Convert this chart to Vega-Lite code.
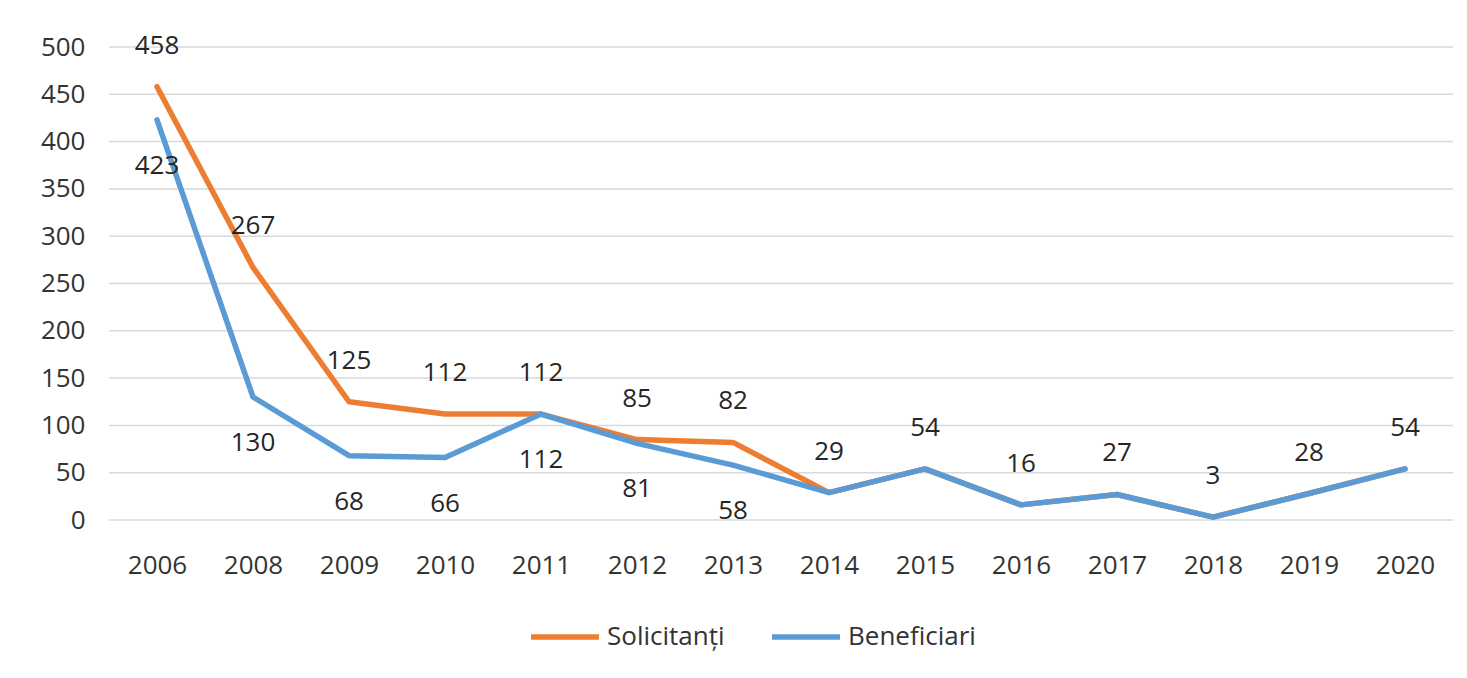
{
  "$schema": "https://vega.github.io/schema/vega-lite/v6.json",
  "autosize": {"type": "none"},
  "width": 1344,
  "height": 473,
  "padding": {"left": 109, "top": 47, "right": 14, "bottom": 158},
  "background": "white",
  "config": {
    "view": {"stroke": null},
    "font": "Open Sans",
    "axis": {"labelFont": "Open Sans", "labelColor": "#333333", "labelFontSize": 26, "grid": false, "domain": false, "ticks": false, "title": null},
    "legend": {"labelFont": "Open Sans", "labelColor": "#333333", "labelFontSize": 26}
  },
  "data": {
    "values": [
      {"year": "2006", "series": "Solicitanți", "value": 458},
      {"year": "2008", "series": "Solicitanți", "value": 267},
      {"year": "2009", "series": "Solicitanți", "value": 125},
      {"year": "2010", "series": "Solicitanți", "value": 112},
      {"year": "2011", "series": "Solicitanți", "value": 112},
      {"year": "2012", "series": "Solicitanți", "value": 85},
      {"year": "2013", "series": "Solicitanți", "value": 82},
      {"year": "2014", "series": "Solicitanți", "value": 29},
      {"year": "2015", "series": "Solicitanți", "value": 54},
      {"year": "2016", "series": "Solicitanți", "value": 16},
      {"year": "2017", "series": "Solicitanți", "value": 27},
      {"year": "2018", "series": "Solicitanți", "value": 3},
      {"year": "2019", "series": "Solicitanți", "value": 28},
      {"year": "2020", "series": "Solicitanți", "value": 54},
      {"year": "2006", "series": "Beneficiari", "value": 423},
      {"year": "2008", "series": "Beneficiari", "value": 130},
      {"year": "2009", "series": "Beneficiari", "value": 68},
      {"year": "2010", "series": "Beneficiari", "value": 66},
      {"year": "2011", "series": "Beneficiari", "value": 112},
      {"year": "2012", "series": "Beneficiari", "value": 81},
      {"year": "2013", "series": "Beneficiari", "value": 58},
      {"year": "2014", "series": "Beneficiari", "value": 29},
      {"year": "2015", "series": "Beneficiari", "value": 54},
      {"year": "2016", "series": "Beneficiari", "value": 16},
      {"year": "2017", "series": "Beneficiari", "value": 27},
      {"year": "2018", "series": "Beneficiari", "value": 3},
      {"year": "2019", "series": "Beneficiari", "value": 28},
      {"year": "2020", "series": "Beneficiari", "value": 54}
    ]
  },
  "encoding": {
    "x": {"field": "year", "type": "ordinal", "scale": {"paddingInner": 0, "paddingOuter": 0}, "axis": {"labelAngle": 0, "labelPadding": 32}},
    "y": {"field": "value", "type": "quantitative", "scale": {"domain": [0, 500], "nice": false}, "axis": {"values": [0, 50, 100, 150, 200, 250, 300, 350, 400, 450, 500], "labelPadding": 24}}
  },
  "layer": [
    {
      "mark": {"type": "rule", "stroke": "#d9d9d9", "strokeWidth": 1.5},
      "data": {"values": [{"v": 0}, {"v": 50}, {"v": 100}, {"v": 150}, {"v": 200}, {"v": 250}, {"v": 300}, {"v": 350}, {"v": 400}, {"v": 450}, {"v": 500}]},
      "encoding": {"x": null, "y": {"field": "v", "type": "quantitative"}}
    },
    {
      "transform": [{"filter": "datum.series === 'Solicitanți'"}],
      "mark": {"type": "line", "strokeWidth": 5.5, "strokeCap": "round", "strokeJoin": "round"},
      "encoding": {
        "color": {"field": "series", "type": "nominal", "scale": {"domain": ["Solicitanți", "Beneficiari"], "range": ["#ED7D31", "#5B9BD5"]},
          "legend": {"orient": "none", "direction": "horizontal", "legendX": 419, "legendY": 553, "title": null, "symbolType": "stroke", "symbolSize": 4624, "symbolStrokeWidth": 5.5, "labelOffset": 5, "columnPadding": 36}}
      }
    },
    {
      "transform": [{"filter": "datum.series === 'Beneficiari'"}],
      "mark": {"type": "line", "strokeWidth": 5.5, "strokeCap": "round", "strokeJoin": "round"},
      "encoding": {"color": {"field": "series", "type": "nominal"}}
    },
    {
      "transform": [{"filter": "datum.series === 'Solicitanți'"}],
      "mark": {"type": "text", "dy": -41, "fontSize": 26, "fill": "#262626", "baseline": "middle"},
      "encoding": {"text": {"field": "value", "type": "quantitative"}}
    },
    {
      "transform": [{"filter": "datum.series === 'Beneficiari' && toNumber(datum.year) <= 2013"}],
      "mark": {"type": "text", "dy": 46, "fontSize": 26, "fill": "#262626", "baseline": "middle"},
      "encoding": {"text": {"field": "value", "type": "quantitative"}}
    }
  ]
}
